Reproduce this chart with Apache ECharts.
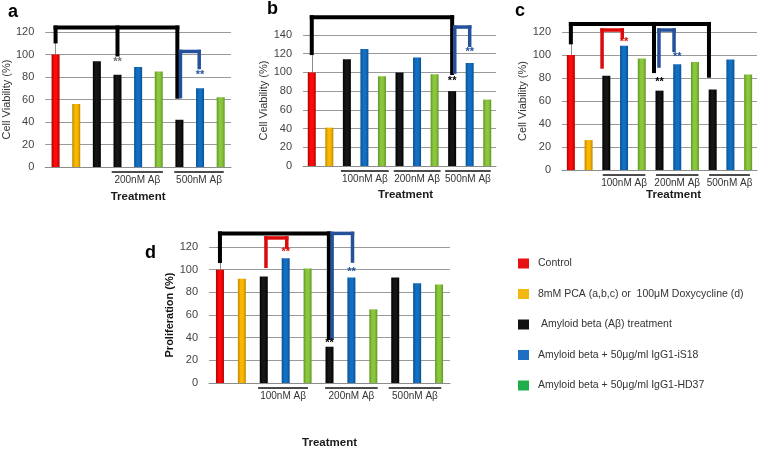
<!DOCTYPE html>
<html><head><meta charset="utf-8">
<script src="https://cdn.jsdelivr.net/npm/echarts@6/dist/echarts.min.js"></script>
<style>html,body{margin:0;padding:0;background:#fff}#c{width:759px;height:450px}</style>
</head><body><div id="c"></div>
<script>
// ---- data ----
const typeNames = ['Control', '8mM PCA (a,b,c) or  100μM Doxycycline (d)', ' Amyloid beta (Aβ) treatment', 'Amyloid beta + 50μg/ml IgG1-iS18', 'Amyloid beta + 50μg/ml IgG1-HD37'];
const aTypes = [0, 1, 2, 2, 3, 4, 2, 3, 4];
const aValues = [100, 56, 94, 82, 89, 85, 42, 70, 62];
const bTypes = [0, 1, 2, 3, 4, 2, 3, 4, 2, 3, 4];
const bValues = [100, 41, 114, 125, 96, 100, 116, 98, 80, 110, 71];
const cTypes = [0, 1, 2, 3, 4, 2, 3, 4, 2, 3, 4];
const cValues = [100, 26, 82, 108, 97, 69, 92, 94, 70, 96, 83];
const dTypes = [0, 1, 2, 3, 4, 2, 3, 4, 2, 3, 4];
const dValues = [100, 92, 94, 110, 101, 32, 93, 65, 93, 88, 87];
const panelLetters = ['a', 'b', 'c', 'd'];
const yNames = ['Cell Viability (%)', 'Cell Viability (%)', 'Cell Viability (%)', 'Proliferation (%)'];
const yMax = [120, 140, 120, 120];
const xName = 'Treatment';
// group labels under the axis: [first index, last index] spans
const aGroupLabels = ['200nM Aβ', '500nM Aβ'];
const aGroupSpans = [[2.72, 5.2], [5.75, 8.15]];
const bGroupLabels = ['100nM Aβ', '200nM Aβ', '500nM Aβ'];
const bGroupSpans = [[1.66, 4.39], [4.67, 7.34], [7.6, 10.2]];
const cGroupLabels = ['100nM Aβ', '200nM Aβ', '500nM Aβ'];
const cGroupSpans = [[1.8, 4.2], [4.8, 7.2], [7.8, 10.1]];
const dGroupLabels = ['100nM Aβ', '200nM Aβ', '500nM Aβ'];
const dGroupSpans = [[1.74, 4.02], [4.8, 7.2], [7.7, 10.1]];
// significance brackets: segments [x1, y1, x2, y2, colourIndex] in (bar index, value) units
const aBrackets = [[0, 124, 5.9, 124, 0], [0, 124, 0, 111.6, 0], [3, 124, 3, 100, 0], [5.9, 124, 5.9, 62.5, 0],
  [6.05, 62.5, 6.05, 102.7, 1], [6.05, 102.7, 6.96, 102.7, 1], [6.96, 102.7, 6.96, 88.4, 1]];
const bBrackets = [[0, 159, 8, 159, 0], [0, 159, 0, 120.7, 0], [8, 159, 8, 99.4, 0],
  [8.15, 100.4, 8.15, 148.5, 1], [8.15, 148.5, 9, 148.5, 1], [9, 148.5, 9, 129, 1]];
const cBrackets = [[0, 127, 7.79, 127, 0], [0, 127, 0, 111, 0], [4.69, 127, 4.69, 86, 0], [7.79, 127, 7.79, 82, 0],
  [1.76, 89.6, 1.76, 121.7, 2], [1.76, 121.7, 2.9, 121.7, 2], [2.9, 121.7, 2.9, 115.7, 2],
  [4.97, 90.4, 4.97, 121.7, 1], [4.97, 121.7, 5.82, 121.7, 1], [5.82, 121.7, 5.82, 104, 1]];
const dBrackets = [[0, 132, 4.97, 132, 0], [0, 132, 0, 107.6, 0], [4.97, 132, 4.97, 39.7, 0],
  [5.12, 39.7, 5.12, 132, 1], [5.12, 132, 6.05, 132, 1], [6.05, 132, 6.05, 107.6, 1],
  [2.1, 103, 2.1, 128, 2], [2.1, 128, 3.05, 128, 2], [3.05, 128, 3.05, 120, 2]];
// "**" marks: [x, y, colourIndex]
const aStars = [[3, 93, 3], [7, 82, 1]];
const bStars = [[8, 91, 0], [9, 122, 1]];
const cStars = [[3, 111, 2], [6, 98, 1], [5, 76.5, 0]];
const dStars = [[3, 115.6, 2], [6, 98, 1], [5, 35, 0]];

// ---- styles ----
const FONT = 'Liberation Sans, Arial, sans-serif';
const barBase = ['#ff0a0a', '#f8b800', '#151515', '#1270c4', '#8cc63e'];
const barEdge = ['#b00000', '#c08800', '#000000', '#0a4f90', '#5f9a22'];
const legendColors = ['#e81010', '#f2b711', '#111111', '#1e6ec4', '#1fae4b'];
const markColors = ['#000000', '#24519a', '#dd0a0a', '#707070'];
const grids = [
  {left: 44, top: 32, width: 187, height: 135},
  {left: 303, top: 35, width: 193, height: 131},
  {left: 562, top: 32, width: 195, height: 138},
  {left: 209, top: 247, width: 241, height: 136}
];
const panels = [
  {types: aTypes, values: aValues, gl: aGroupLabels, gs: aGroupSpans, br: aBrackets, st: aStars, yGap: 30, xGap: 24, xPad: [0, 0, 0, 0], yBold: false},
  {types: bTypes, values: bValues, gl: bGroupLabels, gs: bGroupSpans, br: bBrackets, st: bStars, yGap: 28, xGap: 23, xPad: [0, 0, 0, 12], yBold: false},
  {types: cTypes, values: cValues, gl: cGroupLabels, gs: cGroupSpans, br: cBrackets, st: cStars, yGap: 30, xGap: 19, xPad: [0, 0, 0, 28], yBold: false},
  {types: dTypes, values: dValues, gl: dGroupLabels, gs: dGroupSpans, br: dBrackets, st: dStars, yGap: 31, xGap: 54, xPad: [0, 0, 0, 0], yBold: true}
];
const titlePos = [[8, 3], [267, 0], [515, 2], [145, 244]];

function grad(t) {
  return {type: 'linear', x: 0, y: 0, x2: 1, y2: 0, colorStops: [
    {offset: 0, color: barEdge[t]}, {offset: 0.35, color: barBase[t]}, {offset: 0.65, color: barBase[t]}, {offset: 1, color: barEdge[t]}]};
}

const xAxes = [], yAxes = [], series = [], titles = [];
panels.forEach((p, i) => {
  xAxes.push({type: 'category', gridIndex: i, data: p.types.map((t, k) => String(k)),
    axisLine: {lineStyle: {color: '#8c8c8c'}}, axisTick: {show: false}, axisLabel: {show: false},
    name: xName, nameLocation: 'middle', nameGap: p.xGap,
    nameTextStyle: {fontFamily: FONT, fontSize: 11.5, fontWeight: 'bold', color: '#1a1a1a', padding: p.xPad}});
  yAxes.push({type: 'value', gridIndex: i, min: 0, max: yMax[i], interval: 20,
    axisLine: {show: true, lineStyle: {color: '#8c8c8c'}}, axisTick: {show: true, length: 4, lineStyle: {color: '#8c8c8c'}},
    splitLine: {lineStyle: {color: '#9a9a9a'}},
    axisLabel: {fontFamily: FONT, fontSize: 11, color: '#444', margin: 11},
    name: yNames[i], nameLocation: 'middle', nameGap: p.yGap,
    nameTextStyle: {fontFamily: FONT, fontSize: 11, color: p.yBold ? '#111' : '#333', fontWeight: p.yBold ? 'bold' : 'normal'}});
  titles.push({text: panelLetters[i], left: titlePos[i][0], top: titlePos[i][1], padding: 0,
    textStyle: {fontFamily: FONT, fontSize: 18, fontWeight: 'bold', color: '#000'}});
  typeNames.forEach((name, t) => {
    series.push({type: 'bar', name: name, xAxisIndex: i, yAxisIndex: i, barWidth: 8, barGap: '-100%',
      itemStyle: {color: grad(t)}, emphasis: {disabled: true},
      data: p.values.map((v, k) => p.types[k] === t ? v : '-')});
  });
});
// hidden value axes aligned with the category bands for annotations
panels.forEach((p, i) => {
  xAxes.push({type: 'value', gridIndex: i, min: -0.5, max: p.values.length - 0.5, show: false});
});
panels.forEach((p, i) => {
  const xi = 4 + i;
  series.push({type: 'custom', xAxisIndex: xi, yAxisIndex: i, silent: true, clip: false, z: 5,
    encode: {x: [0, 2], y: [1, 3]}, data: p.br,
    renderItem: function (params, api) {
      const a = api.coord([api.value(0), api.value(1)]);
      const b = api.coord([api.value(2), api.value(3)]);
      const ci = api.value(4);
      return {type: 'line', shape: {x1: a[0], y1: a[1], x2: b[0], y2: b[1]},
        style: {stroke: markColors[ci], lineWidth: ci === 0 ? 4 : 3.5, lineCap: 'square'}};
    }});
  series.push({type: 'custom', xAxisIndex: xi, yAxisIndex: i, silent: true, clip: false, z: 6,
    encode: {x: 0, y: 1}, data: p.st,
    renderItem: function (params, api) {
      const a = api.coord([api.value(0), api.value(1)]);
      return {type: 'text', style: {text: '**', x: a[0], y: a[1], fill: markColors[api.value(2)],
        fontFamily: FONT, fontSize: 11, fontWeight: 'bold', align: 'center', verticalAlign: 'middle'}};
    }});
  series.push({type: 'custom', xAxisIndex: xi, yAxisIndex: i, silent: true, clip: false, z: 6,
    encode: {x: [0, 1]}, data: p.gs.map(s => [s[0], s[1], 0]),
    renderItem: function (params, api) {
      const a = api.coord([api.value(0), 0]);
      const b = api.coord([api.value(1), 0]);
      const y = a[1] + 5;
      return {type: 'group', children: [
        {type: 'line', shape: {x1: a[0], y1: y, x2: b[0], y2: y}, style: {stroke: '#111', lineWidth: 1.5}},
        {type: 'text', style: {text: p.gl[params.dataIndex], x: (a[0] + b[0]) / 2, y: y + 8, fill: '#333',
          fontFamily: FONT, fontSize: 10, align: 'center', verticalAlign: 'middle'}}
      ]};
    }});
});

const chart = echarts.init(document.getElementById('c'), null, {renderer: 'canvas'});
chart.setOption({
  animation: false,
  backgroundColor: '#fff',
  title: titles,
  grid: grids,
  xAxis: xAxes,
  yAxis: yAxes,
  legend: {orient: 'vertical', left: 518, top: 258, itemWidth: 11, itemHeight: 10, itemGap: 19.5, padding: 0,
    icon: 'rect', selectedMode: false,
    textStyle: {fontFamily: FONT, fontSize: 10.5, color: '#333', padding: [0, 0, 0, 4]},
    data: typeNames.map((nm, t) => ({name: nm, itemStyle: {color: legendColors[t]}}))},
  series: series
});
</script></body></html>
